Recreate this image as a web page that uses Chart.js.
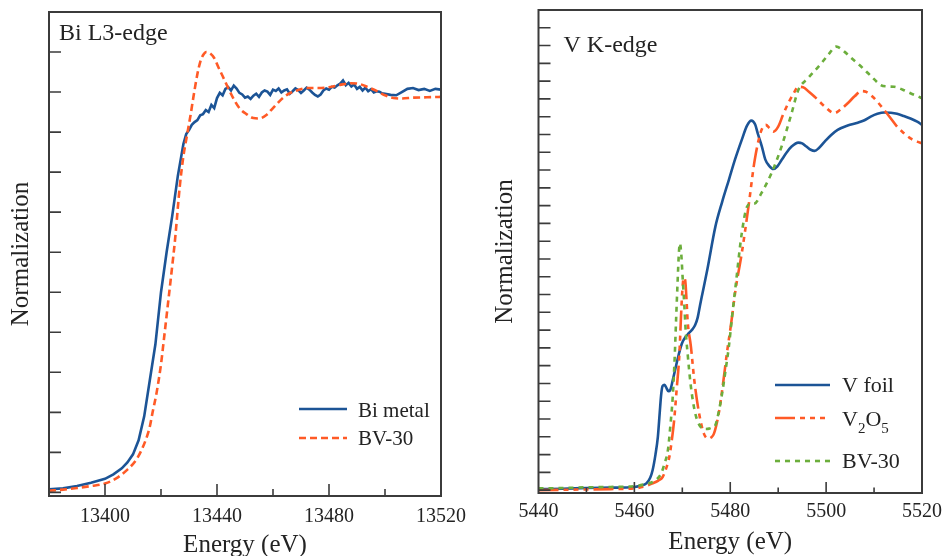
<!DOCTYPE html>
<html>
<head>
<meta charset="utf-8">
<script src="https://cdn.jsdelivr.net/npm/chart.js@4.4.1/dist/chart.umd.min.js"></script>
<style>
  html, body { margin: 0; padding: 0; background: #fff; width: 949px; height: 556px; overflow: hidden; }
  canvas { position: absolute; top: 0; }
  #biChart { left: 0; }
  #vChart { left: 475px; }
</style>
</head>
<body>
<canvas id="biChart" width="475" height="556"></canvas>
<canvas id="vChart" width="474" height="556"></canvas>
<script>
// ---------- Bi L3-edge XANES ----------
const biMetalEnergy = [13380, 13385, 13390, 13395, 13400, 13403, 13406, 13408, 13410, 13412, 13414, 13416, 13418, 13420, 13422, 13424, 13426, 13428,
  13429, 13430, 13431, 13432, 13433, 13434, 13435, 13436, 13437, 13438, 13439, 13440, 13441, 13442, 13443, 13444, 13445, 13446, 13447, 13448,
  13449, 13450, 13451, 13452, 13453, 13454, 13455, 13456, 13457, 13458, 13459, 13460, 13461, 13462, 13463, 13464, 13465, 13466, 13467, 13468,
  13469, 13470, 13471, 13472, 13473, 13474, 13475, 13476, 13477, 13478, 13479, 13480, 13481, 13482, 13483, 13484, 13485, 13486, 13487, 13488,
  13489, 13490, 13491, 13492, 13493, 13494, 13495, 13496, 13497, 13498, 13499, 13500, 13502, 13504, 13506, 13508, 13510, 13512, 13514, 13516,
  13518, 13520];
const biMetalNorm = [0.008, 0.010, 0.016, 0.024, 0.034, 0.045, 0.060, 0.075, 0.095, 0.130, 0.190, 0.280, 0.370, 0.500, 0.600, 0.690, 0.790, 0.870,
  0.895, 0.905, 0.918, 0.925, 0.930, 0.942, 0.945, 0.955, 0.950, 0.968, 0.960, 0.985, 0.998, 0.992, 1.008, 1.012, 1.004, 1.016, 1.009, 0.998,
  0.994, 0.986, 0.989, 0.983, 0.991, 0.996, 0.988, 0.999, 1.004, 1.001, 0.993, 1.006, 1.003, 1.009, 0.999, 1.004, 1.007, 0.996, 1.002, 1.009,
  1.005, 0.998, 1.004, 1.011, 1.006, 0.999, 0.993, 0.989, 0.994, 1.004, 1.009, 1.006, 1.013, 1.011, 1.017, 1.021, 1.029, 1.017, 1.023, 1.014,
  1.019, 1.008, 1.013, 1.004, 1.011, 1.002, 1.007, 0.999, 1.002, 1.001, 0.997, 0.996, 0.993, 0.992, 1.000, 1.008, 1.010, 1.005, 1.008, 1.003,
  1.008, 1.006];

const biBv30Energy = [13380, 13385, 13390, 13395, 13400, 13404, 13408, 13411, 13413, 13415, 13416, 13417, 13418.4, 13420, 13421, 13422.5, 13424,
  13425, 13426.7, 13428, 13429, 13430.5, 13431.4, 13433, 13434, 13435, 13436.2, 13437.5, 13439, 13440.5, 13442, 13444, 13446, 13448, 13450.5,
  13453, 13455, 13457.5, 13460, 13462, 13464, 13466, 13469, 13472, 13476, 13480, 13484, 13488, 13491, 13494, 13497, 13500, 13503, 13506,
  13510, 13515, 13520];
const biBv30Norm = [0.004, 0.007, 0.011, 0.016, 0.022, 0.035, 0.057, 0.080, 0.105, 0.140, 0.164, 0.200, 0.248, 0.320, 0.380, 0.472, 0.565,
  0.630, 0.764, 0.840, 0.881, 0.940, 0.980, 1.045, 1.075, 1.092, 1.100, 1.097, 1.085, 1.062, 1.040, 1.010, 0.982, 0.960, 0.945,
  0.935, 0.934, 0.942, 0.960, 0.975, 0.988, 0.997, 1.005, 1.010, 1.010, 1.012, 1.018, 1.022, 1.020, 1.012, 1.003, 0.992, 0.985, 0.984,
  0.986, 0.987, 0.988];

const biTickLabels = [13400, 13440, 13480, 13520];

// ---------- V K-edge XANES ----------
const vFoilEnergy = [5440, 5445, 5450, 5455, 5460, 5461.5, 5462.5, 5463.3, 5463.8, 5464.4, 5464.9, 5465.3, 5465.6, 5465.9, 5466.3, 5466.7,
  5467.1, 5467.5, 5468.0, 5468.7, 5469.4, 5470.0, 5470.7, 5471.4, 5472.1, 5472.7, 5473.2, 5473.7, 5474.2, 5475.2, 5476.9, 5478.3, 5479.7,
  5481, 5482.4, 5483.5, 5484.4, 5485.2, 5485.8, 5486.6, 5487.3, 5488, 5489, 5489.8, 5490.7, 5491.8, 5492.8, 5494.2, 5495, 5495.9, 5496.8,
  5497.6, 5498.5, 5499.7, 5501, 5502.4, 5504.5, 5506.6, 5508, 5509.3, 5510.7, 5512.1, 5513.5, 5514.8, 5516.2, 5517.6, 5519, 5520];
const vFoilNorm = [0.003, 0.004, 0.006, 0.007, 0.009, 0.013, 0.019, 0.035, 0.056, 0.100, 0.150, 0.220, 0.270, 0.293, 0.296, 0.287,
  0.278, 0.282, 0.309, 0.350, 0.389, 0.415, 0.431, 0.442, 0.452, 0.465, 0.485, 0.520, 0.553, 0.619, 0.741, 0.810, 0.872,
  0.930, 0.985, 1.025, 1.039, 1.028, 1.000, 0.966, 0.930, 0.914, 0.903, 0.910, 0.928, 0.950, 0.966, 0.977, 0.975, 0.966, 0.957,
  0.954, 0.962, 0.980, 0.998, 1.013, 1.025, 1.033, 1.040, 1.050, 1.058, 1.062, 1.061, 1.058, 1.052, 1.045, 1.036, 1.027];

const v2o5Energy = [5440, 5445, 5450, 5455, 5460, 5462, 5463.8, 5465, 5465.9, 5466.6, 5467.3, 5467.8, 5468.3, 5468.8, 5469.4, 5469.7,
  5470.0, 5470.3, 5470.6, 5470.9, 5471.1, 5471.8, 5472.5, 5473.5, 5474.5, 5475.4, 5476.0, 5476.6, 5477.6, 5478.5, 5479.3, 5480.2, 5481.1,
  5482.4, 5483.8, 5485.1, 5486.4, 5487.4, 5488.2, 5489, 5490, 5491, 5492.1, 5493.2, 5494.2, 5495.2, 5496.4, 5497.6, 5499.6, 5501.7, 5503,
  5504.5, 5506, 5507.3, 5508.3, 5509.3, 5510.7, 5512.1, 5513.5, 5514.8, 5516.2, 5517.6, 5519, 5520];
const v2o5Norm = [0.000, 0.001, 0.002, 0.003, 0.005, 0.010, 0.019, 0.027, 0.037, 0.060, 0.094, 0.140, 0.197, 0.280, 0.385, 0.480,
  0.560, 0.597, 0.590, 0.530, 0.478, 0.403, 0.309, 0.216, 0.159, 0.145, 0.148, 0.159, 0.216, 0.300, 0.385, 0.470, 0.563,
  0.666, 0.797, 0.928, 1.008, 1.027, 1.018, 1.008, 1.022, 1.055, 1.088, 1.115, 1.134, 1.133, 1.120, 1.106, 1.080, 1.060, 1.070,
  1.088, 1.108, 1.122, 1.120, 1.111, 1.092, 1.069, 1.045, 1.022, 1.004, 0.989, 0.980, 0.975];

const vBv30Energy = [5440, 5445, 5450, 5455, 5460, 5462, 5463.8, 5465, 5465.6, 5466.3, 5467, 5467.5, 5468, 5468.4, 5468.7, 5469.0,
  5469.3, 5469.5, 5469.8, 5470.1, 5470.4, 5470.7, 5471.1, 5471.8, 5472.7, 5473.8, 5474.7, 5475.6, 5476.3, 5476.9, 5477.6, 5478.3, 5479,
  5479.7, 5480.4, 5481.1, 5482.4, 5483.5, 5484.3, 5485.1, 5486.5, 5488.6, 5490.7, 5492.8, 5494.2, 5496.2, 5499, 5500.5, 5502.1, 5503.8,
  5505.5, 5507.3, 5509.3, 5511.4, 5512.8, 5514.2, 5516, 5517.6, 5519, 5520];
const vBv30Norm = [0.005, 0.006, 0.008, 0.009, 0.011, 0.016, 0.023, 0.035, 0.047, 0.075, 0.113, 0.180, 0.262, 0.370, 0.478, 0.580,
  0.670, 0.694, 0.660, 0.590, 0.525, 0.450, 0.385, 0.290, 0.216, 0.178, 0.172, 0.173, 0.177, 0.183, 0.220, 0.272, 0.335,
  0.403, 0.490, 0.572, 0.722, 0.797, 0.805, 0.806, 0.835, 0.891, 0.966, 1.060, 1.125, 1.158, 1.200, 1.225, 1.247, 1.233,
  1.212, 1.191, 1.165, 1.139, 1.135, 1.134, 1.126, 1.116, 1.108, 1.102];

const vTickLabels = [5440, 5460, 5480, 5500, 5520];

// ---------- shared styling ----------
const SERIF = '"Liberation Serif", "Times New Roman", Times, serif';
const INK = '#232323';
const FRAME = '#3b3b3b';
const BLUE = '#1c5496';
const ORANGE = '#ff5a26';
const GREEN = '#6cae3c';

function toPoints(xs, ys) { return xs.map((x, i) => ({ x, y: ys[i] })); }

// Draws "V_2O_5"-style labels with subscript digits
function drawRich(ctx, text, x, y, size) {
  const parts = text.split(/(_\d)/).filter(s => s.length);
  let cx = x;
  for (const p of parts) {
    if (p[0] === '_') {
      ctx.font = `${Math.round(size * 0.7)}px ${SERIF}`;
      ctx.fillText(p.slice(1), cx, y + size * 0.3);
      cx += ctx.measureText(p.slice(1)).width;
    } else {
      ctx.font = `${size}px ${SERIF}`;
      ctx.fillText(p, cx, y);
      cx += ctx.measureText(p).width;
    }
  }
}

// Frame, inward tick marks, panel title and in-plot legend
const panelDecor = {
  id: 'panelDecor',
  afterDatasetsDraw(chart, args, o) {
    const { ctx, chartArea: a, scales: { x, y } } = chart;
    ctx.save();
    ctx.strokeStyle = FRAME;
    ctx.lineWidth = 1.6;
    ctx.beginPath();
    // y ticks along the left edge
    const nY = Math.round((y.max - o.yStart) / o.yStep);
    for (let k = 0; k <= nY; k++) {
      const v = o.yStart + k * o.yStep;
      if (v <= y.min || v >= y.max - 1e-9) continue;
      const py = y.getPixelForValue(v);
      ctx.moveTo(a.left, py);
      ctx.lineTo(a.left + o.yTickLen, py);
    }
    // x ticks along the bottom edge
    const k0 = Math.ceil(x.min / o.xMinor), k1 = Math.floor(x.max / o.xMinor);
    for (let k = k0; k <= k1; k++) {
      const v = k * o.xMinor;
      if (v <= x.min || v >= x.max) continue;
      const px = x.getPixelForValue(v);
      const major = Math.abs(v % o.xMajor) < 1e-6;
      ctx.moveTo(px, a.bottom);
      ctx.lineTo(px, a.bottom - (major ? o.xMajorLen : o.xMinorLen));
    }
    ctx.stroke();

    ctx.lineWidth = 2;
    ctx.strokeRect(a.left, a.top, a.right - a.left, a.bottom - a.top);

    // panel title
    ctx.fillStyle = INK;
    ctx.textBaseline = 'alphabetic';
    ctx.textAlign = 'left';
    ctx.font = `${o.titleSize}px ${SERIF}`;
    ctx.fillText(o.title, a.left + o.titleDx, a.top + o.titleDy);

    // legend
    const L = o.legend;
    chart.data.datasets.forEach((ds, i) => {
      const row = L.rows[i];
      ctx.save();
      ctx.strokeStyle = ds.borderColor;
      ctx.lineWidth = ds.borderWidth;
      ctx.setLineDash(ds.borderDash || []);
      ctx.beginPath();
      ctx.moveTo(L.lineX0, row.lineY);
      ctx.lineTo(L.lineX1, row.lineY);
      ctx.stroke();
      ctx.restore();
      ctx.fillStyle = INK;
      drawRich(ctx, ds.label, L.textX, row.baseY, L.size);
    });
    ctx.restore();
  }
};

function makeChart(id, datasets, cfg) {
  return new Chart(document.getElementById(id), {
    type: 'line',
    data: { datasets },
    plugins: [panelDecor],
    options: {
      responsive: false,
      animation: false,
      devicePixelRatio: 1,
      layout: { padding: cfg.padding },
      elements: { point: { radius: 0 } },
      plugins: { legend: { display: false }, tooltip: { enabled: false }, panelDecor: cfg.decor },
      scales: {
        x: {
          type: 'linear', min: cfg.xMin, max: cfg.xMax,
          grid: { display: false, drawTicks: false }, border: { display: false },
          afterBuildTicks: s => { s.ticks = cfg.xLabels.map(v => ({ value: v })); },
          afterFit: s => { s.height = cfg.xHeight; },
          ticks: { color: INK, font: { family: SERIF, size: 20 }, padding: cfg.xTickPad, maxRotation: 0, autoSkip: false,
                   callback: v => String(v) },
          title: { display: true, text: 'Energy (eV)', color: INK, font: { family: SERIF, size: 25, lineHeight: 1 },
                   padding: { top: 0, bottom: cfg.xTitlePad } }
        },
        y: {
          type: 'linear', min: cfg.yMin, max: cfg.yMax,
          grid: { display: false, drawTicks: false }, border: { display: false },
          ticks: { display: false },
          afterFit: s => { s.width = cfg.yWidth; },
          title: { display: true, text: 'Normalization', color: INK, font: { family: SERIF, size: 25, lineHeight: 1 },
                   padding: { top: cfg.yTitlePad, bottom: 0 } }
        }
      }
    }
  });
}

makeChart('biChart', [
  { label: 'Bi metal', data: toPoints(biMetalEnergy, biMetalNorm), borderColor: BLUE, borderWidth: 2.6, tension: 0, order: 1 },
  { label: 'BV-30', data: toPoints(biBv30Energy, biBv30Norm), borderColor: ORANGE, borderWidth: 2.6, borderDash: [7, 4],
    cubicInterpolationMode: 'monotone', order: 0 }
], {
  padding: { left: 0, top: 12, right: 32, bottom: 0 },
  xMin: 13380, xMax: 13520, yMin: -0.009, yMax: 1.2,
  xLabels: biTickLabels, xHeight: 60, xTickPad: 9, xTitlePad: -2,
  yWidth: 49, yTitlePad: 9,
  decor: {
    yStart: 0, yStep: 0.1, yTickLen: 12,
    xMinor: 20, xMajor: 40, xMajorLen: 12, xMinorLen: 7,
    title: 'Bi L3-edge', titleSize: 24, titleDx: 10, titleDy: 28,
    legend: { lineX0: 299, lineX1: 347, textX: 358, size: 21,
              rows: [{ lineY: 409, baseY: 416.5 }, { lineY: 438, baseY: 445 }] }
  }
});

makeChart('vChart', [
  { label: 'V foil', data: toPoints(vFoilEnergy, vFoilNorm), borderColor: BLUE, borderWidth: 2.6,
    cubicInterpolationMode: 'monotone', order: 2 },
  { label: 'V_2O_5', data: toPoints(v2o5Energy, v2o5Norm), borderColor: ORANGE, borderWidth: 2.6, borderDash: [20, 5, 5, 5, 5, 5, 5, 5],
    cubicInterpolationMode: 'monotone', order: 1 },
  { label: 'BV-30', data: toPoints(vBv30Energy, vBv30Norm), borderColor: GREEN, borderWidth: 2.6, borderDash: [5, 5],
    cubicInterpolationMode: 'monotone', order: 0 }
], {
  padding: { left: 0, top: 10, right: 24, bottom: 0 },
  xMin: 5440, xMax: 5520, yMin: -0.008, yMax: 1.35,
  xLabels: vTickLabels, xHeight: 63, xTickPad: 7, xTitlePad: 1,
  yWidth: 63.5, yTitlePad: 17.5,
  decor: {
    yStart: 0, yStep: 0.05, yTickLen: 12,
    xMinor: 10, xMajor: 20, xMajorLen: 11, xMinorLen: 5.5,
    title: 'V K-edge', titleSize: 24, titleDx: 25, titleDy: 41.5,
    legend: { lineX0: 300, lineX1: 355, textX: 367, size: 22,
              rows: [{ lineY: 385, baseY: 392 }, { lineY: 418, baseY: 426 }, { lineY: 461, baseY: 468 }] }
  }
});
</script>
</body>
</html>
